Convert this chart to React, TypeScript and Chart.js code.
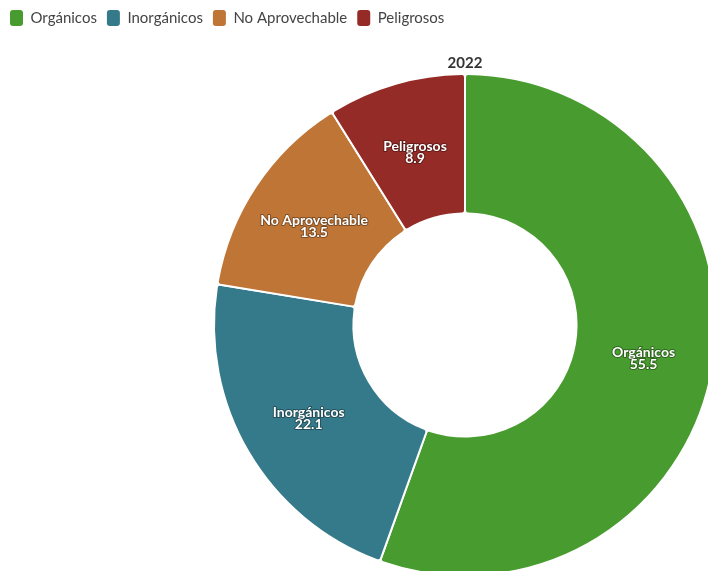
import React, { useEffect, useRef } from "react";
import { Chart, registerables } from "chart.js";

Chart.register(...registerables);

const categories = ["Orgánicos", "Inorgánicos", "No Aprovechable", "Peligrosos"];
const values = [55.5, 22.1, 13.5, 8.9];
const colors = ["#489B2E", "#357A8A", "#BF7536", "#952B27"];
const titleText = "2022";

const sliceLabels = {
  id: "sliceLabels",
  afterDatasetsDraw(chart: any) {
    const ctx = chart.ctx;
    const meta = chart.getDatasetMeta(0);
    ctx.save();
    ctx.font = "bold 14px Lato";
    ctx.textAlign = "center";
    ctx.textBaseline = "middle";
    ctx.lineJoin = "round";
    meta.data.forEach((arc: any, i: number) => {
      const p = arc.tooltipPosition();
      const lines = [categories[i], String(values[i])];
      lines.forEach((t, j) => {
        const y = p.y - 4 + j * 12;
        ctx.strokeStyle = "rgba(0,0,0,0.35)";
        ctx.lineWidth = 2;
        ctx.strokeText(t, p.x, y);
        ctx.fillStyle = "#ffffff";
        ctx.fillText(t, p.x, y);
      });
    });
    ctx.restore();
  },
};

export default function App() {
  const ref = useRef<HTMLCanvasElement>(null);
  useEffect(() => {
    if (!ref.current) return;
    const defaultGen = (Chart as any).overrides.doughnut.plugins.legend.labels.generateLabels;
    const chart = new Chart(ref.current, {
      type: "doughnut",
      data: {
        labels: categories,
        datasets: [
          {
            data: values,
            backgroundColor: colors,
            borderColor: "#ffffff",
            borderWidth: 2,
            borderRadius: 3,
            hoverOffset: 0,
          },
        ],
      },
      options: {
        animation: false,
        responsive: false,
        maintainAspectRatio: false,
        radius: 251,
        cutout: 112,
        layout: { padding: 0 },
        plugins: {
          legend: {
            position: "top",
            align: "start",
            weight: 3000,
            labels: {
              font: { family: "Lato", size: 15 },
              color: "#444",
              boxWidth: 13,
              boxHeight: 16,
              useBorderRadius: true,
              borderRadius: 3,
              padding: 10,
              generateLabels: (c: any) =>
                defaultGen(c).map((l: any) => ({ ...l, lineWidth: 0, strokeStyle: "transparent" })),
            },
          },
          title: {
            display: true,
            text: titleText,
            font: { family: "Lato", size: 15, weight: "bold" },
            color: "#333",
            padding: { top: 18, bottom: 0 },
          },
          tooltip: { enabled: false },
        },
      },
      plugins: [sliceLabels],
    });
    return () => chart.destroy();
  }, []);
  return (
    <div
      style={{
        position: "absolute",
        left: 0,
        top: 0,
        width: 708,
        height: 571,
        overflow: "hidden",
        background: "#fff",
      }}
    >
      <canvas ref={ref} width={930} height={578} style={{ display: "block" }} />
    </div>
  );
}
